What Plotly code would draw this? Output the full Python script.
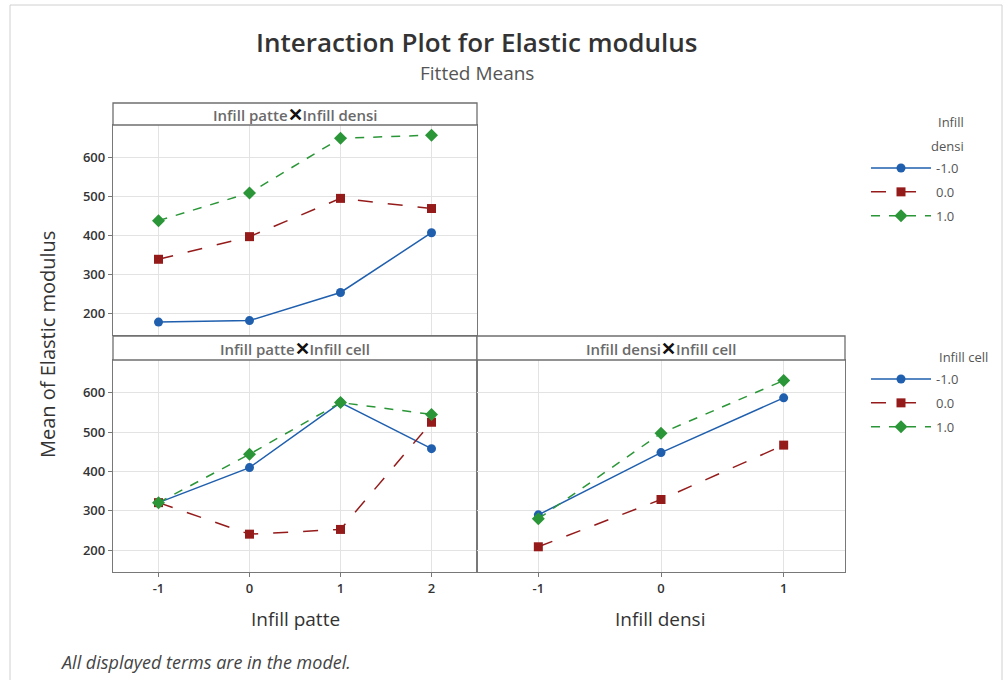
import plotly.graph_objects as go

# ---------------- data ----------------
patte_levels = [-1, 0, 1, 2]
densi_levels = [-1, 0, 1]
level_names = ["-1.0", "0.0", "1.0"]

# Infill patte x Infill densi (series = Infill densi)
pd_densi_m1 = [178, 182, 254, 407]
pd_densi_0 = [339, 397, 495, 469]
pd_densi_p1 = [438, 509, 649, 657]

# Infill patte x Infill cell (series = Infill cell)
pc_cell_m1 = [321, 410, 575, 458]
pc_cell_0 = [321, 241, 253, 525]
pc_cell_p1 = [321, 444, 575, 545]

# Infill densi x Infill cell (series = Infill cell)
dc_cell_m1 = [290, 448, 587]
dc_cell_0 = [209, 329, 467]
dc_cell_p1 = [280, 497, 631]

y_ticks = [200, 300, 400, 500, 600]

# ---------------- styles ----------------
colors = ["#1f5fae", "#951b1b", "#2b9638"]
dashes = ["solid", "longdash", "dash"]
symbols = ["circle", "square", "diamond"]
msizes = [9, 9, 10]

W, H = 1008, 680
def px(x):
    return x / W
def py(y):
    return 1 - y / H

fig = go.Figure()

def add_series(xs, series, xa, ya, legend, show, grp):
    for i, ys in enumerate(series):
        fig.add_trace(go.Scatter(
            x=xs, y=ys, mode="lines+markers", name=level_names[i],
            xaxis=xa, yaxis=ya, legend=legend, showlegend=show,
            legendgroup=grp + str(i),
            line=dict(color=colors[i], width=1.5, dash=dashes[i]),
            marker=dict(color=colors[i], symbol=symbols[i], size=msizes[i]),
        ))

add_series(patte_levels, [pd_densi_m1, pd_densi_0, pd_densi_p1], "x", "y", "legend", True, "d")
add_series(patte_levels, [pc_cell_m1, pc_cell_0, pc_cell_p1], "x2", "y2", "legend2", True, "c")
add_series(densi_levels, [dc_cell_m1, dc_cell_0, dc_cell_p1], "x3", "y3", "legend2", False, "c")

axis_common = dict(showgrid=True, gridcolor="#e3e3e3", gridwidth=1, zeroline=False,
                   showline=True, linecolor="#787878", linewidth=1.3, mirror=True,
                   ticks="outside", ticklen=4, tickcolor="#787878",
                   tickfont=dict(family="Open Sans", size=13, color="#333333", weight=600))

L, M, R = 113, 477, 845
top_strip = (103, 125)
top_plot = (125, 335)
bot_strip = (336, 360)
bot_plot = (360, 572)
yr = [145, 683]

fig.update_layout(
    xaxis=dict(domain=[px(L), px(M)], range=[-1.5, 2.5], tickvals=patte_levels,
               showticklabels=False, anchor="y", **axis_common),
    yaxis=dict(domain=[py(top_plot[1]), py(top_plot[0])], range=yr, tickvals=y_ticks,
               anchor="x", **axis_common),
    xaxis2=dict(domain=[px(L), px(M)], range=[-1.5, 2.5], tickvals=patte_levels,
                ticktext=["-1", "0", "1", "2"], anchor="y2", **axis_common),
    yaxis2=dict(domain=[py(bot_plot[1]), py(bot_plot[0])], range=yr, tickvals=y_ticks,
                anchor="x2", **axis_common),
    xaxis3=dict(domain=[px(M), px(R)], range=[-1.5, 1.5], tickvals=densi_levels,
                ticktext=["-1", "0", "1"], anchor="y3", **axis_common),
    yaxis3=dict(domain=[py(bot_plot[1]), py(bot_plot[0])], range=yr, tickvals=y_ticks,
                showticklabels=False, ticks="", anchor="x3",
                **{k: v for k, v in axis_common.items() if k not in ("ticks",)}),
)

shapes = []
annotations = []

def strip(x0, x1, y0, y1, text):
    shapes.append(dict(type="rect", xref="paper", yref="paper",
                       x0=px(x0), x1=px(x1), y0=py(y1), y1=py(y0),
                       line=dict(color="#6f6f6f", width=1.3), fillcolor="white", layer="above"))
    annotations.append(dict(xref="paper", yref="paper", x=px((x0 + x1) / 2), y=py((y0 + y1) / 2),
                            text=text, showarrow=False, xanchor="center", yanchor="middle",
                            font=dict(family="Open Sans", size=15, color="#6a6a6a", weight=600)))

X = '<span style="color:#111111;font-size:18px;font-weight:700">✕</span>'
strip(L, M, *top_strip, "Infill patte" + X + "Infill densi")
strip(L, M, *bot_strip, "Infill patte" + X + "Infill cell")
strip(M, R, *bot_strip, "Infill densi" + X + "Infill cell")

# outer frame
shapes.append(dict(type="rect", xref="paper", yref="paper", x0=px(10), x1=px(1002),
                   y0=-0.05, y1=py(5), line=dict(color="#d0d0d0", width=1)))

leg_font = dict(family="Open Sans", size=13, color="#555555")

annotations += [
    dict(xref="paper", yref="paper", x=px(477), y=py(42), text="Interaction Plot for Elastic modulus",
         showarrow=False, xanchor="center", yanchor="middle",
         font=dict(family="Open Sans", size=26, color="#333333", weight=600)),
    dict(xref="paper", yref="paper", x=px(477), y=py(73), text="Fitted Means",
         showarrow=False, xanchor="center", yanchor="middle",
         font=dict(family="Open Sans", size=19, color="#555555")),
    dict(xref="paper", yref="paper", x=px(47), y=py(345), text="Mean of Elastic modulus",
         showarrow=False, textangle=-90, xanchor="center", yanchor="middle",
         font=dict(family="Open Sans", size=20, color="#333333", weight=500)),
    dict(xref="paper", yref="paper", x=px(295), y=py(619), text="Infill patte",
         showarrow=False, xanchor="center", yanchor="middle",
         font=dict(family="Open Sans", size=19, color="#333333", weight=500)),
    dict(xref="paper", yref="paper", x=px(660), y=py(619), text="Infill densi",
         showarrow=False, xanchor="center", yanchor="middle",
         font=dict(family="Open Sans", size=19, color="#333333", weight=500)),
    dict(xref="paper", yref="paper", x=px(58), y=py(662), text="<i>All displayed terms are in the model.</i>",
         showarrow=False, xanchor="left", yanchor="middle",
         font=dict(family="Open Sans", size=18, color="#444444")),
    # legend titles
    dict(xref="paper", yref="paper", x=px(966), y=py(122), text="Infill",
         showarrow=False, xanchor="right", yanchor="middle", font=leg_font),
    dict(xref="paper", yref="paper", x=px(966), y=py(146), text="densi",
         showarrow=False, xanchor="right", yanchor="middle", font=leg_font),
    dict(xref="paper", yref="paper", x=px(990), y=py(357), text="Infill cell",
         showarrow=False, xanchor="right", yanchor="middle", font=leg_font),
]

legend_style = dict(font=leg_font, bgcolor="rgba(0,0,0,0)", itemwidth=60,
                    xanchor="left", yanchor="top",
                    traceorder="grouped", tracegroupgap=4)

fig.update_layout(
    width=W, height=H, autosize=False,
    margin=dict(l=0, r=0, t=0, b=0),
    paper_bgcolor="white", plot_bgcolor="white",
    shapes=shapes, annotations=annotations,
    legend=dict(x=px(866), y=py(153), **legend_style),
    legend2=dict(x=px(866), y=py(364), **legend_style),
)

fig.write_html("out.html")
